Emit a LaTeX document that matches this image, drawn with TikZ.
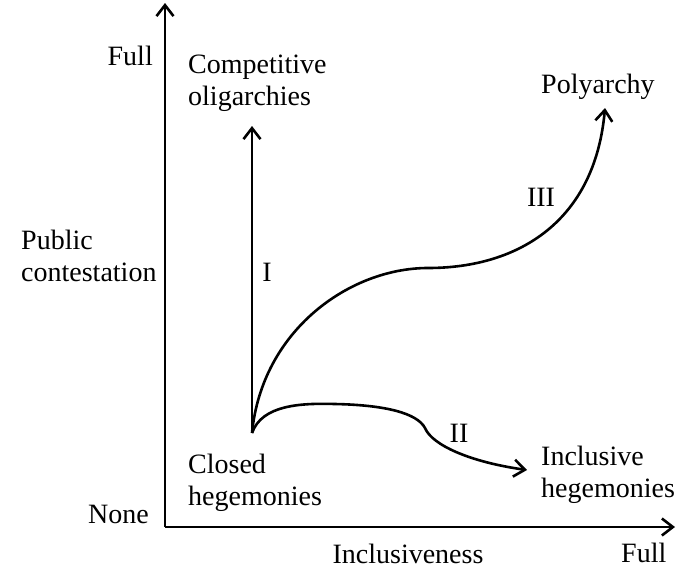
\documentclass[tikz,border=0pt]{standalone}
\usepackage{fontspec}
\setmainfont{Liberation Serif}
\usetikzlibrary{arrows.meta}

\begin{document}
\begin{tikzpicture}[x=1pt,y=-1pt]
\useasboundingbox (0,0) rectangle (680,571);
\coordinate (O) at (165,527);
\coordinate (T) at (165,3);
\coordinate (R) at (675,527);
\coordinate (S) at (252,433);
\coordinate (C) at (252,126);
\coordinate (P) at (605,108);
\coordinate (H) at (527,470);

\begin{scope}[every node/.style={font=\fontsize{28}{32}\selectfont,inner sep=0pt,align=left}]
    \node[anchor=base east] (fullY) at (153,65) {Full};
    \node[anchor=base east] (none) at (149,523) {None};
    \node[anchor=north west] (pubc) at (21,230) {Public\\contestation};
    \node[anchor=base] (incl) at (408,563) {Inclusiveness};
    \node[anchor=base west] (fullX) at (621,562) {Full};
    \node[anchor=north west] (compo) at (188,55) {Competitive\\oligarchies};
    \node[anchor=base west] (poly) at (541,93) {Polyarchy};
    \node[anchor=north west] (closedh) at (188,454) {Closed\\hegemonies};
    \node[anchor=north west] (inclh) at (541,446) {Inclusive\\hegemonies};
    \node[anchor=base] (pI) at (267,281) {I};
    \node[anchor=base] (pII) at (459,442) {II};
    \node[anchor=base] (pIII) at (541,206) {III};
\end{scope}

\begin{scope}[>={Straight Barb[length=11pt,width=17pt]},
              every edge/.style={draw=black,line width=2.6pt}]
    \path [->] (O) edge (T);
    \path [->] (O) edge (R);
    \path [->] (S) edge (C);
    \draw [->,line width=2.6pt] (S) .. controls (262,330) and (350,268) .. (428,268)
        .. controls (520,268) and (595,220) .. (P);
    \draw [->,line width=2.6pt] (S) .. controls (262,405) and (300,403) .. (335,404)
        .. controls (385,405) and (417,413) .. (425,428)
        .. controls (432,445) and (470,462) .. (H);
\end{scope}
\end{tikzpicture}
\end{document}
